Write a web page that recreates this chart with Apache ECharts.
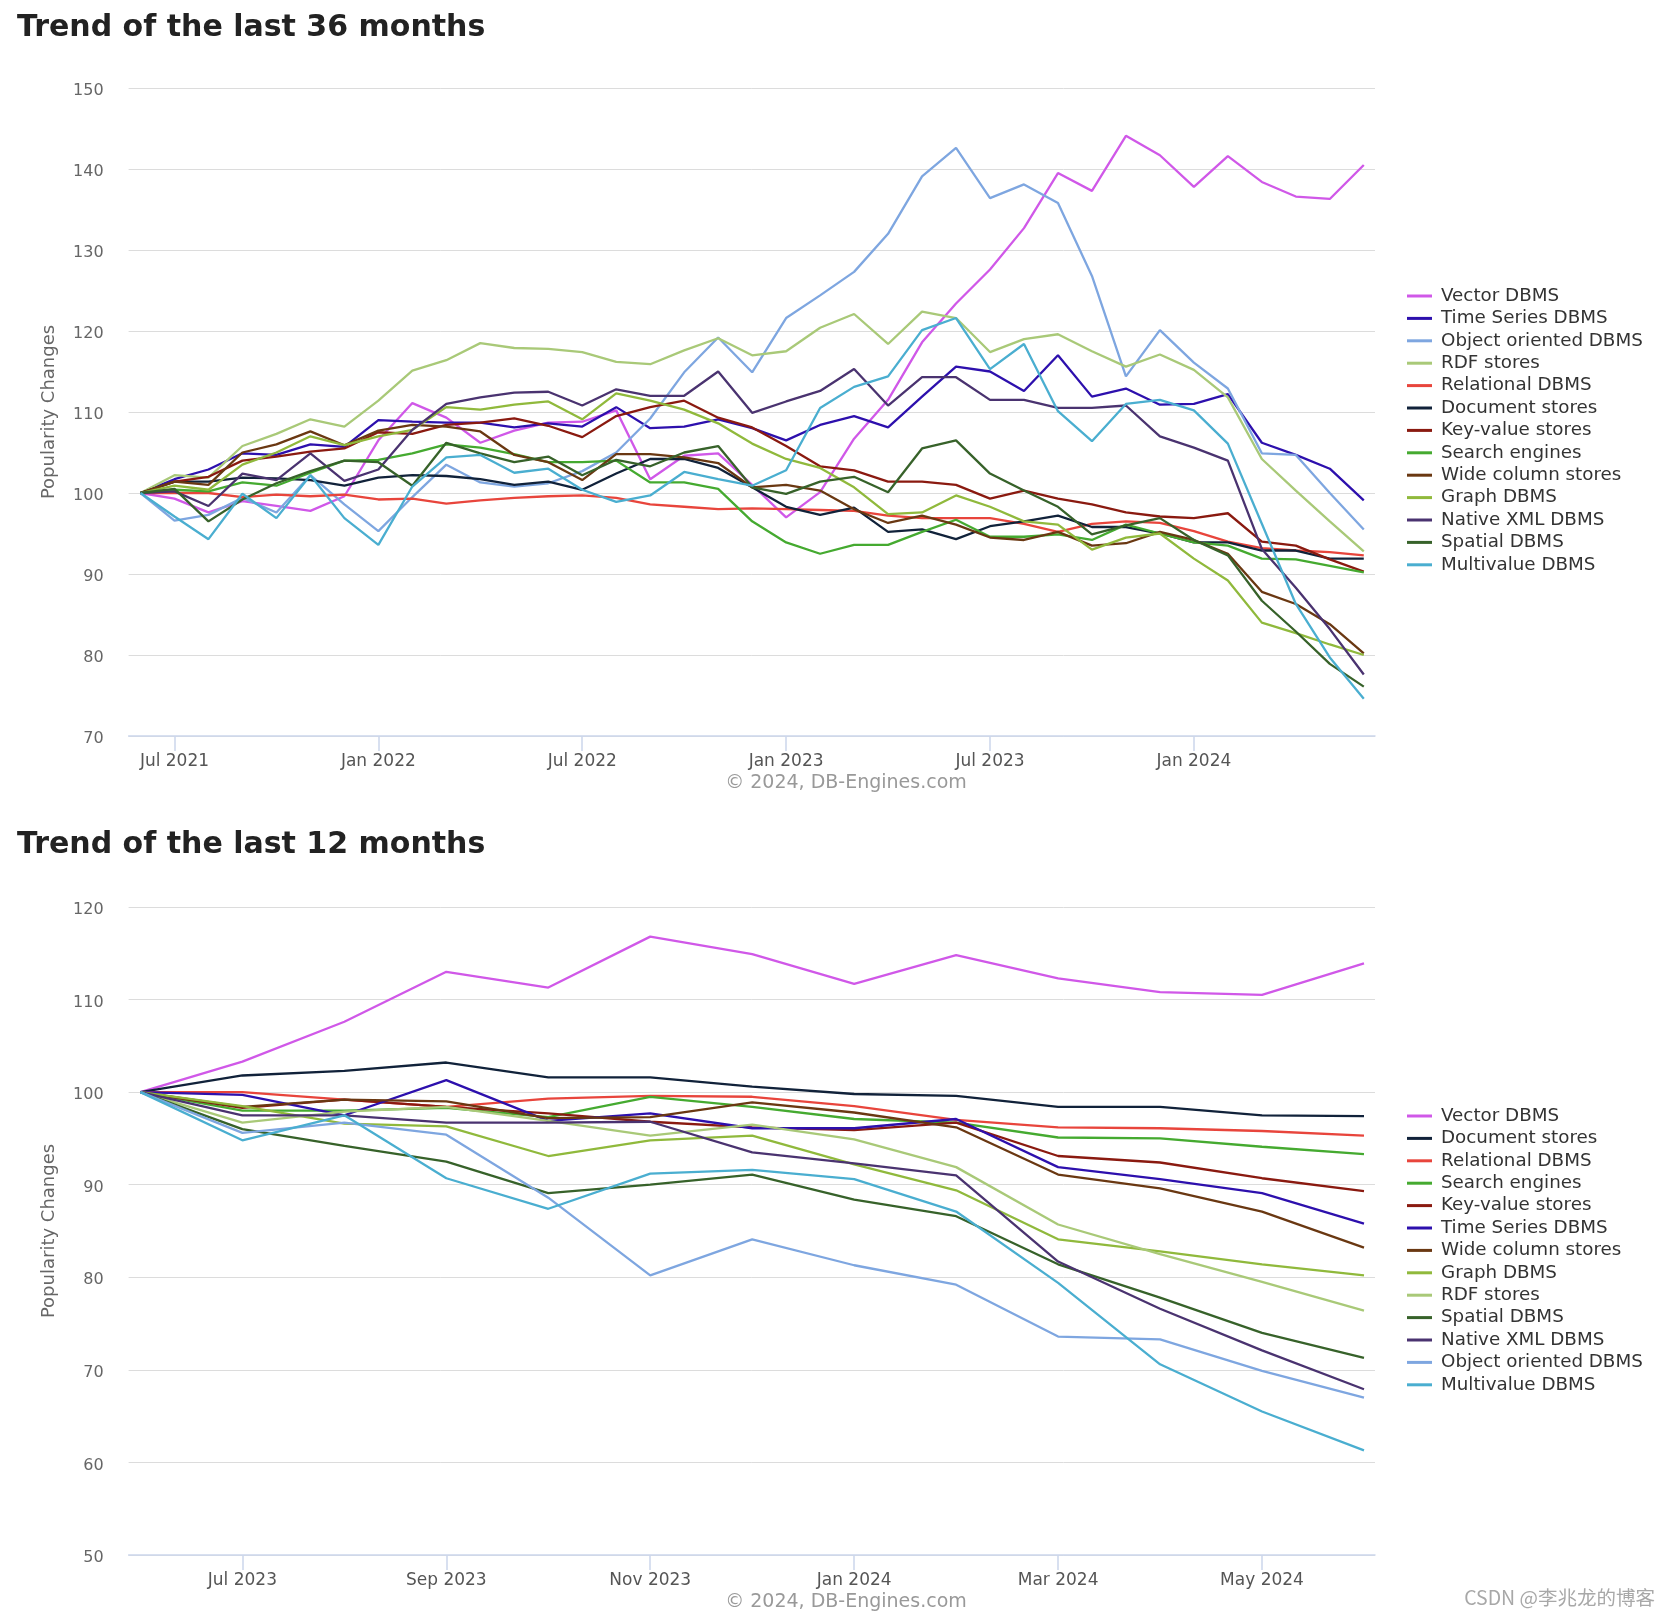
<!DOCTYPE html>
<html>
<head>
<meta charset="utf-8">
<script src="https://cdn.jsdelivr.net/npm/echarts@6/dist/echarts.min.js"></script>
<style>
html,body{margin:0;padding:0;background:#fff;}
#chart{width:1670px;height:1616px;}
</style>
</head>
<body>
<div id="chart"></div>
<script>
// ---------- categories & tick labels ----------
const months36 = ['Jun 2021','Jul 2021','Aug 2021','Sep 2021','Oct 2021','Nov 2021','Dec 2021',
  'Jan 2022','Feb 2022','Mar 2022','Apr 2022','May 2022','Jun 2022','Jul 2022','Aug 2022','Sep 2022','Oct 2022','Nov 2022','Dec 2022',
  'Jan 2023','Feb 2023','Mar 2023','Apr 2023','May 2023','Jun 2023','Jul 2023','Aug 2023','Sep 2023','Oct 2023','Nov 2023','Dec 2023',
  'Jan 2024','Feb 2024','Mar 2024','Apr 2024','May 2024','Jun 2024'];
const months12 = ['Jun 2023','Jul 2023','Aug 2023','Sep 2023','Oct 2023','Nov 2023','Dec 2023',
  'Jan 2024','Feb 2024','Mar 2024','Apr 2024','May 2024','Jun 2024'];
const ticks36 = ['Jul 2021','Jan 2022','Jul 2022','Jan 2023','Jul 2023','Jan 2024'];
const ticks12 = ['Jul 2023','Sep 2023','Nov 2023','Jan 2024','Mar 2024','May 2024'];
const yTicks36 = [70, 80, 90, 100, 110, 120, 130, 140, 150];
const yTicks12 = [50, 60, 70, 80, 90, 100, 110, 120];

// ---------- last 36 months ----------
const vector36 = [100,99.3,97.6,99.0,98.4,97.8,99.6,106.5,111.1,109.3,106.2,107.7,108.7,108.8,110.2,101.7,104.6,104.9,101.0,97.0,100.1,106.7,111.5,118.6,123.4,127.6,132.7,139.5,137.3,144.1,141.7,137.8,141.6,138.4,136.6,136.3,140.5];
const timeSeries36 = [100,101.7,102.9,104.9,104.7,106.0,105.7,109.0,108.8,108.7,108.7,108.1,108.6,108.2,110.6,108.0,108.2,109.1,108.0,106.5,108.4,109.5,108.1,111.9,115.6,115.0,112.6,117.0,111.9,112.9,110.9,111.0,112.2,106.2,104.7,103.0,99.1];
const objectOriented36 = [100,96.6,97.3,99.4,97.6,102.2,98.6,95.3,99.5,103.5,101.3,100.8,101.2,102.7,105.0,109.2,114.9,119.2,114.9,121.6,124.4,127.3,132.0,139.1,142.6,136.4,138.1,135.8,126.8,114.4,120.1,116.1,112.9,104.9,104.7,100.0,95.5];
const rdf36 = [100,102.2,101.9,105.8,107.3,109.1,108.2,111.4,115.1,116.4,118.5,117.9,117.8,117.4,116.2,115.9,117.6,119.1,117.0,117.5,120.4,122.1,118.4,122.4,121.6,117.4,119.0,119.6,117.5,115.6,117.1,115.2,111.8,104.2,100.3,96.5,92.8];
const relational36 = [100,100.0,100.0,99.5,99.8,99.6,99.8,99.2,99.3,98.7,99.1,99.4,99.6,99.7,99.4,98.6,98.3,98.0,98.1,98.0,97.9,97.8,97.2,96.9,96.9,96.9,96.2,95.2,96.2,96.5,96.3,95.3,94.0,93.2,92.9,92.7,92.3];
const document36 = [100,101.4,101.4,101.9,101.8,101.6,100.9,101.9,102.2,102.1,101.7,101.0,101.4,100.4,102.4,104.2,104.2,103.1,100.7,98.3,97.3,98.2,95.2,95.5,94.3,95.9,96.5,97.2,95.8,95.8,95.0,93.9,93.9,92.9,92.9,91.9,91.9];
const keyValue36 = [100,101.4,102.0,104.0,104.5,105.1,105.5,107.5,107.3,108.4,108.7,109.2,108.3,106.9,109.5,110.6,111.4,109.3,108.1,105.8,103.3,102.8,101.4,101.4,101.0,99.3,100.3,99.3,98.6,97.6,97.1,96.9,97.5,94.0,93.5,91.8,90.3];
const search36 = [100,100.4,100.2,101.3,100.9,102.5,104.0,104.1,104.9,106.0,105.6,104.8,103.8,103.8,104.0,101.3,101.3,100.5,96.5,93.9,92.5,93.6,93.6,95.2,96.7,94.6,94.6,94.9,94.2,96.1,95.0,93.9,93.5,91.9,91.8,91.0,90.2];
const wideColumn36 = [100,101.4,101.0,105.0,106.0,107.6,105.9,107.7,108.4,108.2,107.6,104.7,103.8,101.6,104.8,104.8,104.4,103.7,100.7,101.0,100.3,98.0,96.3,97.2,96.1,94.5,94.2,95.2,93.5,93.8,95.2,94.2,92.5,87.8,86.3,83.8,80.2];
const graph36 = [100,100.9,100.4,103.5,105.0,107.0,105.9,107.0,107.8,110.6,110.3,110.9,111.3,109.1,112.3,111.4,110.3,108.6,106.1,104.2,103.1,100.7,97.4,97.6,99.7,98.3,96.5,96.1,93.0,94.5,95.0,91.9,89.2,84.0,82.7,81.3,80.0];
const nativeXml36 = [100,100.2,98.4,102.4,101.6,104.9,101.5,102.9,107.8,111.0,111.8,112.4,112.5,110.8,112.8,112.0,112.0,115.0,109.9,111.3,112.6,115.3,110.8,114.3,114.3,111.5,111.5,110.5,110.5,110.8,107.0,105.6,104.0,93.1,88.3,83.2,77.6];
const spatial36 = [100,100.5,96.5,99.2,101.2,102.7,104.0,103.8,100.9,106.2,104.9,103.8,104.5,102.2,104.1,103.3,105.0,105.8,100.7,99.9,101.4,102.0,100.1,105.5,106.5,102.4,100.3,98.3,94.9,96.0,96.9,94.2,92.3,86.7,82.9,78.9,76.1];
const multivalue36 = [100,97.1,94.3,99.9,96.9,102.2,96.9,93.6,100.8,104.4,104.7,102.5,103.0,100.4,98.9,99.7,102.6,101.7,100.9,102.8,110.5,113.1,114.4,120.1,121.6,115.3,118.4,110.1,106.4,111.0,111.5,110.2,106.1,96.2,86.3,79.7,74.6];

// ---------- last 12 months ----------
const vector12 = [100,103.3,107.6,113.0,111.3,116.8,114.9,111.7,114.8,112.3,110.8,110.5,113.9];
const document12 = [100,101.8,102.3,103.2,101.6,101.6,100.6,99.8,99.6,98.4,98.4,97.5,97.4];
const relational12 = [100,100.0,99.2,98.4,99.3,99.6,99.5,98.5,97.0,96.2,96.1,95.8,95.3];
const search12 = [100,98.0,98.0,98.3,97.3,99.5,98.4,97.1,96.7,95.1,95.0,94.1,93.3];
const keyValue12 = [100,98.3,99.2,98.4,97.7,96.8,96.2,95.9,96.7,93.1,92.4,90.7,89.3];
const timeSeries12 = [100,99.7,97.5,101.3,96.9,97.7,96.1,96.1,97.1,91.9,90.6,89.1,85.8];
const wideColumn12 = [100,98.4,99.2,99.0,97.2,97.3,98.9,97.8,96.2,91.1,89.6,87.1,83.2];
const graph12 = [100,98.5,96.6,96.3,93.1,94.8,95.3,92.2,89.4,84.1,82.8,81.4,80.2];
const rdf12 = [100,96.7,97.9,98.4,96.9,95.3,96.5,94.9,91.9,85.7,82.5,79.5,76.4];
const spatial12 = [100,96.0,94.2,92.5,89.1,90.0,91.1,88.4,86.6,81.4,77.8,74.0,71.3];
const nativeXml12 = [100,97.5,97.5,96.7,96.7,96.8,93.5,92.3,91.0,81.7,76.6,72.1,67.9];
const objectOriented12 = [100,95.6,96.7,95.4,88.6,80.2,84.1,81.3,79.2,73.6,73.3,69.9,67.0];
const multivalue12 = [100,94.8,97.5,90.7,87.4,91.2,91.6,90.6,87.1,79.4,70.6,65.5,61.3];

// ---------- series definitions (name, colour, values) ----------
const colors = {
  'Vector DBMS':'#d058e8','Time Series DBMS':'#2d10ad','Object oriented DBMS':'#7ea6e0','RDF stores':'#a9c978',
  'Relational DBMS':'#e8453c','Document stores':'#11223a','Key-value stores':'#8a1a10','Search engines':'#45aa30',
  'Wide column stores':'#6a3812','Graph DBMS':'#90b93c','Native XML DBMS':'#4a3370','Spatial DBMS':'#37622a',
  'Multivalue DBMS':'#4aaed0'
};
const top36 = [
  ['Vector DBMS', vector36], ['Time Series DBMS', timeSeries36], ['Object oriented DBMS', objectOriented36],
  ['RDF stores', rdf36], ['Relational DBMS', relational36], ['Document stores', document36],
  ['Key-value stores', keyValue36], ['Search engines', search36], ['Wide column stores', wideColumn36],
  ['Graph DBMS', graph36], ['Native XML DBMS', nativeXml36], ['Spatial DBMS', spatial36], ['Multivalue DBMS', multivalue36]
];
const top12 = [
  ['Vector DBMS', vector12], ['Document stores', document12], ['Relational DBMS', relational12],
  ['Search engines', search12], ['Key-value stores', keyValue12], ['Time Series DBMS', timeSeries12],
  ['Wide column stores', wideColumn12], ['Graph DBMS', graph12], ['RDF stores', rdf12],
  ['Spatial DBMS', spatial12], ['Native XML DBMS', nativeXml12], ['Object oriented DBMS', objectOriented12],
  ['Multivalue DBMS', multivalue12]
];

const FONT = 'DejaVu Sans';
const chart = echarts.init(document.getElementById('chart'), null, {renderer:'canvas'});

function xAxisDef(gridIndex, months, ticks) {
  const idx = ticks.map(t => months.indexOf(t));
  const n = months.length - 1;
  const pad = n === 36 ? [0.35, 0.33] : [0.116, 0.108];
  return {
    type:'value', gridIndex, min: -pad[0], max: n + pad[1],
    splitLine:{show:false},
    axisLine:{show:true, onZero:false, lineStyle:{color:'#ccd6eb', width:1.5}},
    axisTick:{show:true, customValues: idx, length:15, lineStyle:{color:'#ccd6eb', width:1.5}},
    axisLabel:{show:true, customValues: idx, formatter: v => months[Math.round(v)], fontSize:17, color:'#555', margin:17, fontFamily:FONT}
  };
}
function yAxisDef(gridIndex, ticks) {
  return {
    type:'value', gridIndex, min: ticks[0], max: ticks[ticks.length-1], interval: ticks[1]-ticks[0],
    name:'Popularity Changes', nameLocation:'middle', nameGap:70,
    nameTextStyle:{fontSize:18, color:'#666', fontFamily:FONT},
    axisLine:{show:false}, axisTick:{show:false},
    axisLabel:{fontSize:16, color:'#666', margin:25, fontFamily:FONT, verticalAlign:'top', lineHeight:6},
    splitLine:{show:true, lineStyle:{color:'#dcdcdc', width:1}}
  };
}
function seriesFor(list, axisIndex) {
  return list.map(([name, vals]) => ({
    type:'line', name, xAxisIndex:axisIndex, yAxisIndex:axisIndex,
    data: vals.map((v, i) => [i, v]),
    showSymbol:false, symbol:'none', smooth:false,
    lineStyle:{width:2.3, color:colors[name]}, itemStyle:{color:colors[name]},
    emphasis:{disabled:true}
  }));
}
function legendDef(list, top) {
  return {
    orient:'vertical', left:1407, top, padding:0, itemGap:2.4,
    itemWidth:25, itemHeight:3, icon:'rect',
    data: list.map(d => d[0]),
    textStyle:{fontSize:18.3, color:'#333', fontFamily:FONT, lineHeight:20, padding:[0,0,0,4]}
  };
}
const titleStyle = {fontFamily:FONT, fontSize:30, fontWeight:'bold', color:'#222', lineHeight:30};
const credit = {fill:'#999', font:'19px "DejaVu Sans"', textAlign:'center', textVerticalAlign:'middle', align:'center', verticalAlign:'middle'};

const option = {
  animation:false,
  backgroundColor:'#ffffff',
  title:[
    {text:'Trend of the last 36 months', left:17, top:13, padding:0, textStyle:titleStyle},
    {text:'Trend of the last 12 months', left:17, top:830, padding:0, textStyle:titleStyle}
  ],
  grid:[
    {left:128.6, right:295, top:88, height:648},
    {left:128.6, right:295, top:907, height:648}
  ],
  xAxis:[xAxisDef(0, months36, ticks36), xAxisDef(1, months12, ticks12)],
  yAxis:[yAxisDef(0, yTicks36), yAxisDef(1, yTicks12)],
  legend:[legendDef(top36, 286), legendDef(top12, 1106)],
  series: seriesFor(top36, 0).concat(seriesFor(top12, 1)),
  graphic:[
    {type:'text', x:846, y:783, style:Object.assign({text:'© 2024, DB-Engines.com'}, credit)},
    {type:'text', x:846, y:1602, style:Object.assign({text:'© 2024, DB-Engines.com'}, credit)},
    {type:'text', x:1655, y:1598, style:{text:'CSDN @李兆龙的博客', fill:'#a8a8a8', font:'19.5px "Noto Sans CJK SC"', textAlign:'right', textVerticalAlign:'middle', align:'right', verticalAlign:'middle'}}
  ]
};
chart.setOption(option);
</script>
</body>
</html>
